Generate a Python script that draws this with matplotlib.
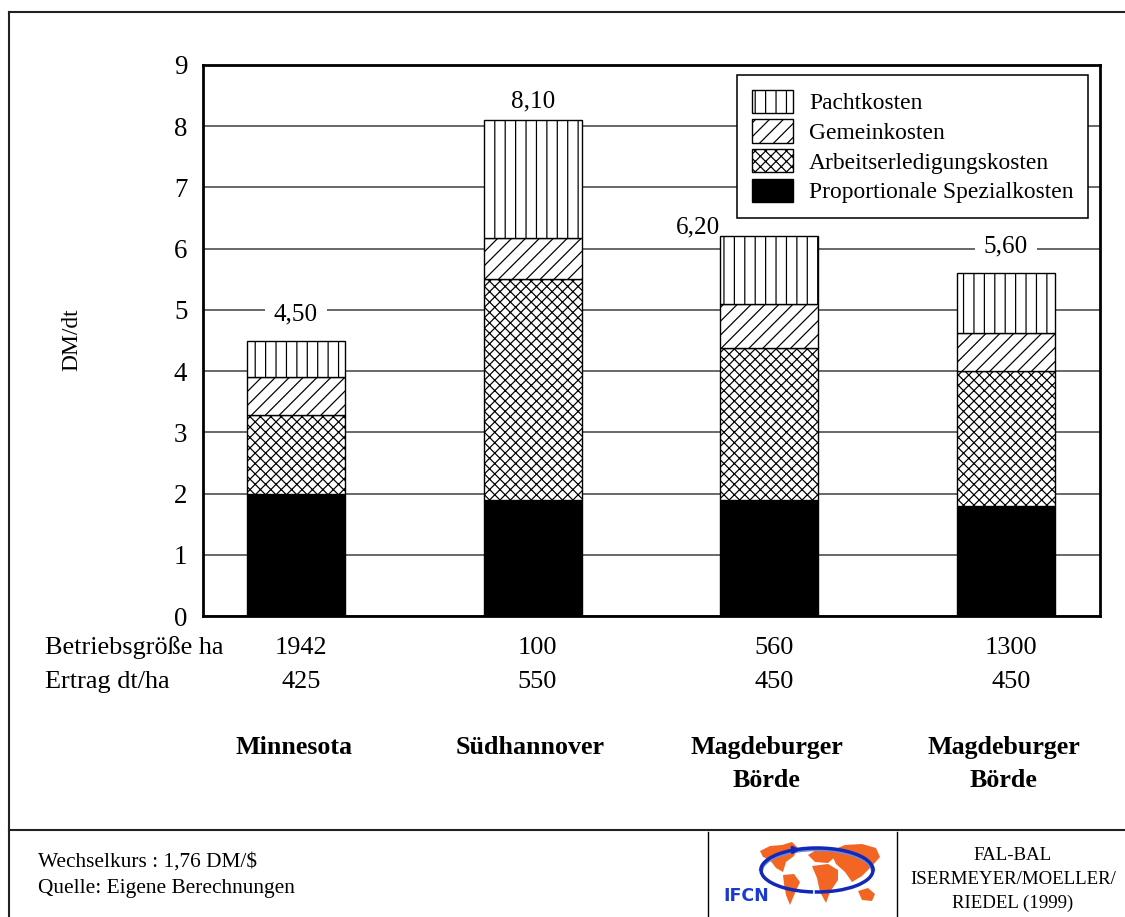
import numpy as np
import matplotlib
matplotlib.use('Agg')
import matplotlib.pyplot as plt
from matplotlib.patches import Patch, Polygon, Arc, FancyArrowPatch
from matplotlib.transforms import blended_transform_factory

plt.rcParams['font.family'] = ['Liberation Serif', 'DejaVu Serif']
plt.rcParams['hatch.linewidth'] = 0.7

# Kosten je dt in DM, Segmente von unten nach oben
regions = ['Minnesota', 'Südhannover', 'Magdeburger\nBörde', 'Magdeburger\nBörde']
spezialkosten = [2.00, 1.90, 1.90, 1.80]
arbeitskosten = [1.28, 3.60, 2.48, 2.20]
gemeinkosten = [0.62, 0.67, 0.72, 0.62]
pachtkosten = [0.60, 1.93, 1.10, 0.98]
totals = [4.50, 8.10, 6.20, 5.60]
betriebsgroesse = ['1942', '100', '560', '1300']
ertrag = ['425', '550', '450', '450']

W, H, DPI = 1125, 917, 125
fig = plt.figure(figsize=(W / DPI, H / DPI), dpi=DPI)


def fx(px):
    return px / W


def fy(py):
    return 1 - py / H


ax = fig.add_axes([fx(203), fy(616), fx(1100) - fx(203), fy(65) - fy(616)])
x = np.arange(len(regions))
width = 0.414

segments = [
    (spezialkosten, 'black', '', 'Proportionale Spezialkosten'),
    (arbeitskosten, 'white', 'xxxx', 'Arbeitserledigungskosten'),
    (gemeinkosten, 'white', '///', 'Gemeinkosten'),
    (pachtkosten, 'white', '||', 'Pachtkosten'),
]
bottom = np.zeros(len(regions))
handles = []
for vals, fc, hatch, name in segments:
    ax.bar(x, vals, width, bottom=bottom, color=fc, edgecolor='black',
           hatch=hatch, linewidth=0.8, zorder=3)
    bottom += np.array(vals)
    handles.append(Patch(facecolor=fc, edgecolor='black', hatch=hatch,
                         linewidth=0.8, label=name))

ax.set_xlim(-0.393, 3.397)
ax.set_ylim(0, 9)
ax.set_yticks(range(10))
ax.set_xticks([])
ax.tick_params(axis='y', length=0, pad=9, labelsize=15.5)
ax.yaxis.grid(True, color='#555555', linewidth=1.0, zorder=0)
ax.set_axisbelow(True)
for sp in ax.spines.values():
    sp.set_linewidth(1.6)
    sp.set_color('black')

# Summen ueber den Saeulen
label_dx = [0.0, 0.0, -0.3, 0.0]
label_dy = [0.43, 0.31, 0.15, 0.43]
for i, t in enumerate(totals):
    ax.text(x[i] + label_dx[i], t + label_dy[i], f'{t:.2f}'.replace('.', ','),
            ha='center', va='center', fontsize=14.5, zorder=2.5,
            bbox=dict(facecolor='white', edgecolor='none', pad=5))

leg = ax.legend(handles=handles[::-1], loc='upper right',
                bbox_to_anchor=(0.9866, 0.9818), fontsize=13.5,
                frameon=True, fancybox=False, framealpha=1,
                edgecolor='black', handlelength=1.75, handleheight=1.15,
                labelspacing=0.22, handletextpad=0.7, borderpad=0.62,
                borderaxespad=0)
leg.get_frame().set_linewidth(0.9)
leg.set_zorder(6)

fig.text(fx(72), fy(340), 'DM/dt', rotation=90, ha='center', va='center',
         fontsize=13.5)

# Tabelle unter der Grafik
bt = blended_transform_factory(ax.transData, fig.transFigure)
fig.text(fx(45), fy(648), 'Betriebsgröße ha', ha='left', va='center',
         fontsize=15.1)
fig.text(fx(45), fy(682), 'Ertrag dt/ha', ha='left', va='center',
         fontsize=15.1)
for i in range(len(regions)):
    fig.text(x[i] + 0.02, fy(648), betriebsgroesse[i], transform=bt,
             ha='center', va='center', fontsize=15.1)
    fig.text(x[i] + 0.02, fy(682), ertrag[i], transform=bt,
             ha='center', va='center', fontsize=15.1)
    fig.text(x[i] - 0.01, fy(736), regions[i], transform=bt,
             ha='center', va='top', fontsize=15.0, fontweight='bold',
             linespacing=1.56)

# Rahmen und Fusszeile
fig.add_artist(plt.Line2D([fx(9), fx(9)], [fy(12), 0], color='#222222', lw=1.2))
fig.add_artist(plt.Line2D([fx(9), 1], [fy(12), fy(12)], color='#222222', lw=1.2))
fig.add_artist(plt.Line2D([fx(9), 1], [fy(830), fy(830)], color='#222222', lw=1.2))
fig.add_artist(plt.Line2D([fx(708), fx(708)], [fy(832), 0], color='black', lw=0.8))
fig.add_artist(plt.Line2D([fx(897), fx(897)], [fy(832), 0], color='black', lw=0.8))

fig.text(fx(38), fy(862), 'Wechselkurs : 1,76 DM/$', ha='left', va='center',
         fontsize=12.3)
fig.text(fx(38), fy(889), 'Quelle: Eigene Berechnungen', ha='left',
         va='center', fontsize=12.3)
for yy, s in zip([856, 879, 903], ['FAL-BAL', 'ISERMEYER/MOELLER/', 'RIEDEL (1999)']):
    fig.text(fx(1013), fy(yy), s, ha='center', va='center', fontsize=10.9)

# IFCN-Logo
lax = fig.add_axes([fx(709), 0, fx(896) - fx(709), fy(831)])
lax.set_xlim(709, 896)
lax.set_ylim(917, 831)
lax.axis('off')
orange = '#f26522'
continents = [
    # Nordamerika
    [(760, 851), (770, 846), (782, 845), (792, 842), (798, 848), (794, 856),
     (786, 862), (783, 872), (776, 868), (770, 860), (763, 857)],
    # Suedamerika
    [(783, 875), (794, 874), (800, 882), (795, 893), (790, 905), (786, 895),
     (784, 884)],
    # Europa
    [(808, 855), (818, 849), (830, 850), (836, 856), (828, 863), (815, 862)],
    # Afrika
    [(812, 866), (828, 864), (838, 870), (838, 880), (830, 892), (826, 903),
     (820, 892), (817, 878)],
    # Asien
    [(830, 851), (845, 845), (862, 844), (876, 848), (880, 857), (872, 866),
     (862, 876), (852, 882), (845, 872), (836, 864)],
    # Australien
    [(858, 891), (868, 888), (875, 894), (872, 901), (862, 900)],
]
for c in continents:
    lax.add_patch(Polygon(c, closed=True, facecolor=orange, edgecolor='none'))
lax.add_patch(Arc((817, 871), 112, 44, theta1=-180, theta2=0,
                  color='#6f8fd8', lw=2.6))
lax.add_patch(Arc((817, 870), 112, 44, theta1=100, theta2=360,
                  color='#1428b8', lw=2.0))
lax.add_patch(Arc((817, 870), 112, 44, theta1=0, theta2=96,
                  color='#1428b8', lw=2.0))
lax.add_patch(FancyArrowPatch((790, 850), (804, 849.5), arrowstyle='-|>',
                              mutation_scale=8, color='#1428b8', lw=1.5))
lax.text(746, 896, 'IFCN', color='#1a3ccc', fontsize=10, fontweight='bold',
         family='DejaVu Sans', ha='center', va='center')

fig.savefig('out.png', dpi=DPI)
